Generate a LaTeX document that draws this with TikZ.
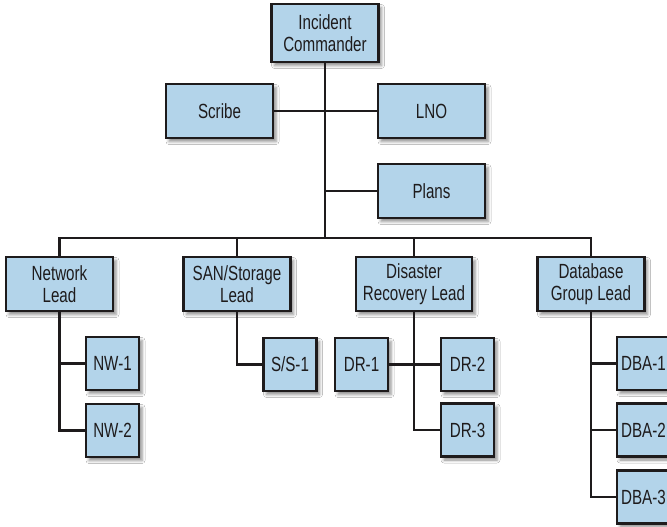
\documentclass[tikz,border=0pt]{standalone}
\usepackage{fontspec}
\setmainfont{Liberation Sans}[FakeStretch=0.74]
\usetikzlibrary{shadows.blur}
\definecolor{boxfill}{RGB}{179,212,234}
\definecolor{ink}{RGB}{30,27,28}
\tikzset{
  role/.style={draw=ink, line width=2.8pt, fill=boxfill, text=ink,
    align=center, inner sep=0pt, minimum height=54pt,
    font=\fontsize{20.5}{22.5}\selectfont,
    blur shadow={shadow xshift=3pt, shadow yshift=-3.5pt,
      shadow blur radius=3pt, shadow opacity=45}},
  wide/.style={role, minimum width=107pt},
  small/.style={role, minimum width=53pt, minimum height=53pt},
  link/.style={draw=ink, line width=2.2pt}
}
\begin{document}
\begin{tikzpicture}[x=1pt, y=-1pt]
  \clip (0,0) rectangle (667,527);
  \fill[white] (0,0) rectangle (667,527);

  % command staff
  \node[wide, minimum height=58pt] (ic) at (325,33) {Incident\\Commander};
  \node[wide] (scribe) at (219.5,111) {Scribe};
  \node[wide] (lno) at (431.5,111) {LNO};
  \node[wide] (plans) at (431.5,191) {Plans};

  % team leads
  \node[wide] (nl) at (59.5,284) {Network\\Lead};
  \node[wide] (sl) at (237,284) {SAN/Storage\\Lead};
  \node[wide, minimum width=116pt] (drl) at (414,284) {Disaster\\Recovery Lead};
  \node[wide] (dbl) at (591,284) {Database\\Group Lead};

  % team members
  \node[small] (nw1) at (112.5,363.5) {NW-1};
  \node[small] (nw2) at (112.5,430.5) {NW-2};
  \node[small] (ss1) at (290,364.5) {S/S-1};
  \node[small] (dr1) at (361.5,364.5) {DR-1};
  \node[small] (dr2) at (467.5,364.5) {DR-2};
  \node[small] (dr3) at (467.5,430) {DR-3};
  \node[small] (dba1) at (643.5,363.5) {DBA-1};
  \node[small] (dba2) at (643.5,430) {DBA-2};
  \node[small] (dba3) at (643.5,497) {DBA-3};

  \coordinate (bus) at (325,238);

  % trunk and staff branches
  \draw[link] (ic.south) -- (bus);
  \draw[link] (scribe.east) -- (lno.west);
  \draw[link] (plans.west) -- (plans.west -| ic.south);

  % bus to the leads
  \draw[link] (nl.north) |- (bus) -| (dbl.north);
  \draw[link] (sl.north) -- (sl.north |- bus);
  \draw[link] (drl.north) -- (drl.north |- bus);

  % leads to members
  \draw[link] (nl.south) |- (nw2.west);
  \draw[link] (nl.south |- nw1.west) -- (nw1.west);
  \draw[link] (sl.south) |- (ss1.west);
  \draw[link] (dr1.east) -- (dr2.west);
  \draw[link] (drl.south) |- (dr3.west);
  \draw[link] (dbl.south) |- (dba3.west);
  \draw[link] (dbl.south |- dba1.west) -- (dba1.west);
  \draw[link] (dbl.south |- dba2.west) -- (dba2.west);
\end{tikzpicture}
\end{document}
